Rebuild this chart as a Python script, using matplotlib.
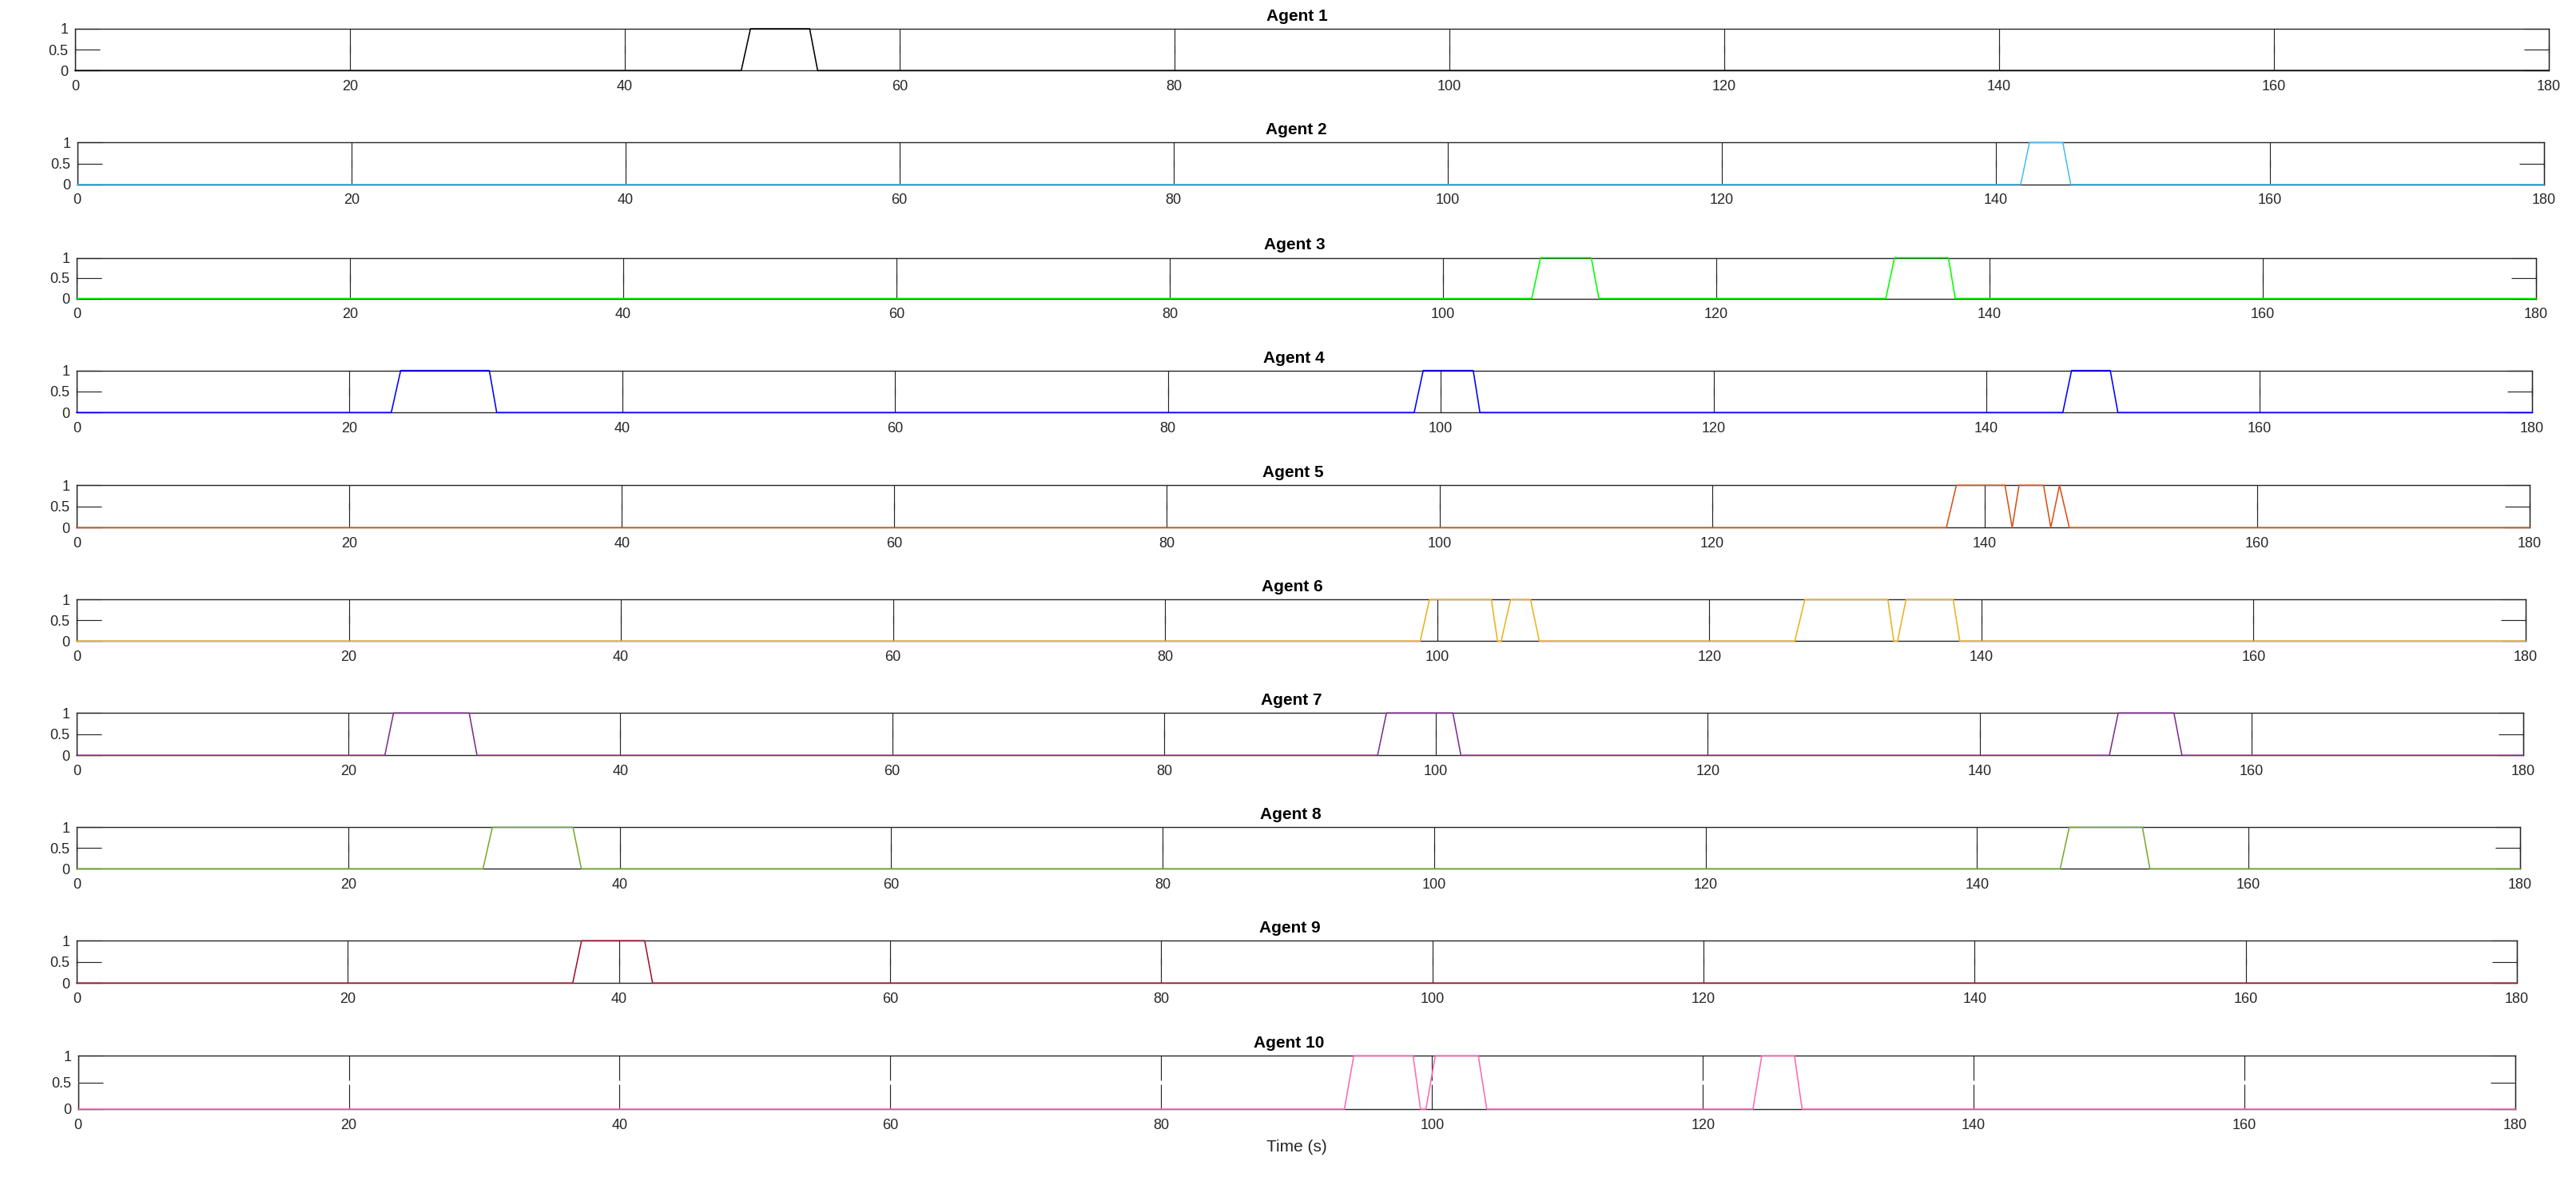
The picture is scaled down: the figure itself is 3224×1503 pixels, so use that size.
import matplotlib
matplotlib.use('Agg')
import matplotlib.pyplot as plt

plt.rcParams['font.family'] = ['Liberation Sans', 'DejaVu Sans']

# ---------------- data ----------------
agent_names = [f'Agent {i}' for i in range(1, 11)]
agent_colors = ['#000000', '#4DBEEE', '#00FF00', '#0000FF', '#D95319',
                '#EDB120', '#7E2F8E', '#77AC30', '#A2142F', '#FF69B4']
t_end = 180
# pulses: (rise start, top reached, fall start, fall end) in seconds
agent1_pulses = [(48.48, 49.15, 53.46, 54.04)]
agent2_pulses = [(141.83, 142.47, 144.90, 145.48)]
agent3_pulses = [(106.50, 107.14, 110.85, 111.41), (132.41, 133.05, 136.99, 137.49)]
agent4_pulses = [(23.06, 23.75, 30.25, 30.79), (98.05, 98.71, 102.38, 102.87),
                 (145.60, 146.24, 149.08, 149.64)]
agent5_pulses = [(137.20, 137.93, 141.50, 142.03), (142.03, 142.53, 144.33, 144.86),
                 (144.86, 145.50, 145.50, 146.22)]
agent6_pulses = [(98.75, 99.43, 103.98, 104.43), (104.70, 105.39, 106.86, 107.50),
                 (126.28, 127.02, 133.12, 133.56), (133.83, 134.46, 137.92, 138.41)]
agent7_pulses = [(22.67, 23.31, 28.88, 29.45), (95.71, 96.36, 101.25, 101.84),
                 (149.55, 150.20, 154.30, 154.89)]
agent8_pulses = [(29.93, 30.62, 36.56, 37.18), (146.12, 146.79, 152.18, 152.73)]
agent9_pulses = [(36.59, 37.24, 41.90, 42.48)]
agent10_pulses = [(93.53, 94.22, 98.60, 99.15), (99.55, 100.24, 103.42, 104.04),
                  (123.70, 124.35, 126.77, 127.33)]
all_pulses = [agent1_pulses, agent2_pulses, agent3_pulses, agent4_pulses, agent5_pulses,
              agent6_pulses, agent7_pulses, agent8_pulses, agent9_pulses, agent10_pulses]
x_ticks = list(range(0, 181, 20))
y_ticks = [0, 0.5, 1]
y_ticklabels = ['0', '0.5', '1']


def pulse_line(pulses):
    xs, ys = [0], [0]
    for a, b, c, d in pulses:
        xs += [a, b, c, d]
        ys += [0, 1, 1, 0]
    xs.append(t_end)
    ys.append(0)
    return xs, ys


# ---------------- layout (pixels) ----------------
W, H = 3224, 1503
lefts = [94, 96.8, 96, 96, 96, 96, 96, 96, 96, 97.6]
rights = [3189.5, 3183.6, 3174, 3169, 3166, 3161, 3158, 3154, 3150, 3148]
tops = [36, 178.3, 322.5, 463.7, 607.3, 750.3, 892.3, 1035.3, 1177.3, 1321.3]
heights = [52.3, 52.5, 51, 52.6, 53, 52, 53, 52, 53, 66.7]
title_centers = [1623 - 1.1 * i for i in range(10)]

fig = plt.figure(figsize=(W / 100, H / 100), dpi=100)
edge = '#262626'

for i in range(10):
    l, r, t, h = lefts[i], rights[i], tops[i], heights[i]
    ax = fig.add_axes([l / W, 1 - (t + h) / H, (r - l) / W, h / H])
    xs, ys = pulse_line(all_pulses[i])
    ax.plot(xs, ys, color=agent_colors[i], lw=1.15, zorder=3, clip_on=False)
    ax.set_xlim(0, t_end)
    ax.set_ylim(0, 1)
    ax.set_xticks(x_ticks)
    ax.set_yticks(y_ticks)
    ax.set_yticklabels(y_ticklabels)
    ax.tick_params(axis='both', direction='in', length=22.3, width=0.85, color=edge,
                   labelcolor=edge, labelsize=13, top=True, right=True)
    ax.tick_params(axis='x', pad=8.4)
    ax.tick_params(axis='y', pad=6)
    for sp in ax.spines.values():
        sp.set_color(edge)
        sp.set_linewidth(1.0)
    ax.set_title(agent_names[i], fontsize=15, fontweight='bold', pad=7.2,
                 x=(title_centers[i] - l) / (r - l), color='black')
    if i == 9:
        ax.set_xlabel('Time (s)', fontsize=15, labelpad=7, color=edge)

fig.savefig('out.png', dpi=100, facecolor='white')
